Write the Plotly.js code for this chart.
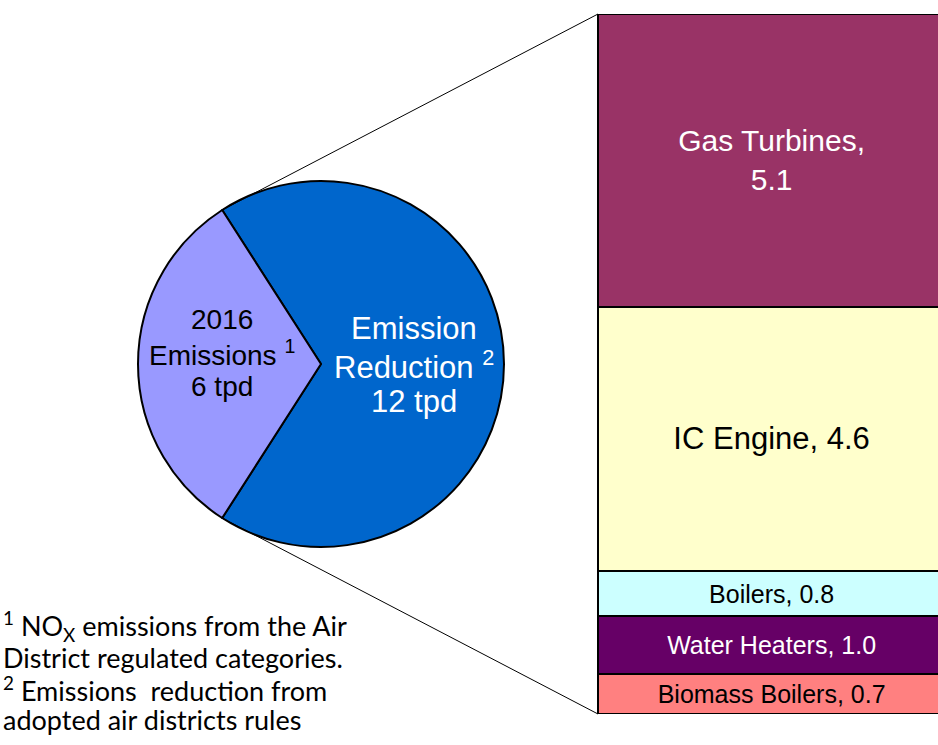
<!DOCTYPE html>
<html>
<head>
<meta charset="utf-8">
<script src="https://cdn.plot.ly/plotly-3.0.1.min.js"></script>
<style>html,body{margin:0;padding:0;background:#fff;}#chart{width:938px;height:745px;}</style>
</head>
<body>
<div id="chart"></div>
<script>
// ---- data ----
var pieLabels = ["Emission Reduction", "2016 Emissions"];
var pieValues = [12.2, 5.7];
var pieText = ["Emission<br>Reduction <sup>2</sup><br>12 tpd", "2016<br>Emissions <sup>1</sup><br>6 tpd"];
var pieColors = ["#0066CC", "#9999FF"];
var pieTextColors = ["#FFFFFF", "#000000"];

var barCategories = ["Biomass Boilers", "Water Heaters", "Boilers", "IC Engine", "Gas Turbines"];
var barValues = [0.7, 1.0, 0.8, 4.6, 5.1];
var barColors = ["#FF8080", "#660066", "#CCFFFF", "#FFFFCC", "#993366"];
var barTextColors = ["#000000", "#FFFFFF", "#000000", "#000000", "#FFFFFF"];
var barTextSizes = [25, 25, 25, 31, 30];
var barLabels = ["Biomass Boilers, 0.7", "Water Heaters, 1.0", "Boilers, 0.8", "IC Engine, 4.6", "Gas Turbines,<br>5.1"];

var footnoteLines = [
  "<sup>1</sup> NO<sub>X</sub> emissions from the Air",
  "District regulated categories.",
  "<sup>2</sup> Emissions  reduction from",
  "adopted air districts rules"
];

// ---- geometry ----
var W = 938, H = 745;
var ARIAL = "Liberation Sans";
var pieCx = 321, pieCy = 364, pieR = 183;
var total = pieValues.reduce(function(a,b){return a+b;},0);
var lightSpan = 360 * pieValues[1] / total;
var rotation = -90 + lightSpan / 2;

var barTotal = barValues.reduce(function(a,b){return a+b;},0);
var barTop = 14, barBottom = 714, barLeft = 598;

var traces = [];
traces.push({
  type: "pie",
  labels: pieLabels,
  values: pieValues,
  sort: false,
  direction: "clockwise",
  rotation: rotation,
  marker: {colors: pieColors, line: {color: "#000000", width: 2}},
  textinfo: "none",
  hoverinfo: "label+value",
  showlegend: false,
  domain: {x: [(pieCx - pieR)/W, (pieCx + pieR)/W], y: [(H - pieCy - pieR)/H, (H - pieCy + pieR)/H]}
});

for (var i = 0; i < barValues.length; i++) {
  traces.push({
    type: "bar",
    x: [0.5565],
    y: [barValues[i]],
    width: [0.925],
    name: barCategories[i],
    text: [barLabels[i]],
    textposition: "inside",
    insidetextanchor: "middle",
    textangle: 0,
    constraintext: "none",
    cliponaxis: false,
    textfont: {family: ARIAL, size: barTextSizes[i], color: barTextColors[i]},
    marker: {color: barColors[i], line: {color: "#000000", width: 2}},
    showlegend: false,
    hoverinfo: "name+y"
  });
}

// connector lines from slice boundary points on the circle to bar corners
var halfRad = (lightSpan / 2) * Math.PI / 180;
var topPt = {x: pieCx - pieR * Math.cos(halfRad), y: pieCy - pieR * Math.sin(halfRad)};
var botPt = {x: pieCx - pieR * Math.cos(halfRad), y: pieCy + pieR * Math.sin(halfRad)};
function px(x){return x / W;}
function py(y){return (H - y) / H;}

var shapes = [
  {type: "line", xref: "paper", yref: "paper", x0: px(topPt.x), y0: py(topPt.y), x1: px(barLeft), y1: py(barTop), line: {color: "#000000", width: 1}},
  {type: "line", xref: "paper", yref: "paper", x0: px(botPt.x), y0: py(botPt.y), x1: px(barLeft), y1: py(barBottom), line: {color: "#000000", width: 1}}
];

var annotations = [];
// pie labels, one annotation per line for tight line spacing
var pieLabelPos = [{x: 414, y0: 328.5, step: 36.7, size: 31}, {x: 222, y0: 319.5, step: 33.3, size: 28}];
for (var s = 0; s < pieText.length; s++) {
  var lines = pieText[s].split("<br>");
  for (var j = 0; j < lines.length; j++) {
    annotations.push({xref: "paper", yref: "paper", x: px(pieLabelPos[s].x), y: py(pieLabelPos[s].y0 + j * pieLabelPos[s].step),
      text: lines[j], showarrow: false, align: "center", xanchor: "center", yanchor: "middle",
      font: {family: ARIAL, size: pieLabelPos[s].size, color: pieTextColors[s]}});
  }
}
var footTop = 626, footStep = 31.3;
for (var k = 0; k < footnoteLines.length; k++) {
  annotations.push({xref: "paper", yref: "paper", x: px(1), y: py(footTop + k * footStep), text: footnoteLines[k], showarrow: false,
    align: "left", xanchor: "left", yanchor: "middle", font: {family: "Lato", size: 27, color: "#000000"}});
}

var layout = {
  width: W, height: H,
  margin: {l: 0, r: 0, t: 0, b: 0},
  font: {family: ARIAL},
  paper_bgcolor: "#FFFFFF",
  plot_bgcolor: "rgba(0,0,0,0)",
  barmode: "stack",
  xaxis: {domain: [0.6, 1], range: [0, 1], visible: false, fixedrange: true},
  yaxis: {domain: [py(barBottom), py(barTop)], range: [0, barTotal], visible: false, fixedrange: true},
  shapes: shapes,
  annotations: annotations,
  showlegend: false
};

Plotly.newPlot("chart", traces, layout, {displayModeBar: false, staticPlot: true});
</script>
</body>
</html>
